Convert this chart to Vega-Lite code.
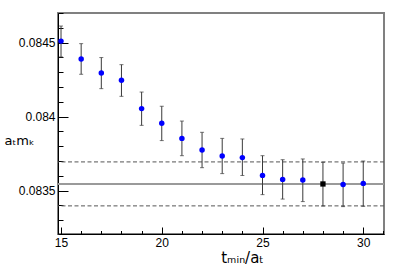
{
  "$schema": "https://vega.github.io/schema/vega-lite/v6.json",
  "width": 326,
  "height": 221,
  "autosize": "none",
  "padding": {"left": 58, "top": 13, "right": 23, "bottom": 43},
  "background": "white",
  "config": {
    "view": {"stroke": "#808080", "strokeWidth": 2},
    "font": "Liberation Sans",
    "axis": {"labelOverlap": false, "labelFlush": false, "labelBound": false}
  },
  "datasets": {
    "pts": [
      {"t": 15, "y": 0.084510, "lo": 0.084403, "hi": 0.084612, "sel": "no"},
      {"t": 16, "y": 0.084389, "lo": 0.084286, "hi": 0.084493, "sel": "no"},
      {"t": 17, "y": 0.084295, "lo": 0.084189, "hi": 0.084399, "sel": "no"},
      {"t": 18, "y": 0.084245, "lo": 0.084137, "hi": 0.084351, "sel": "no"},
      {"t": 19, "y": 0.084054, "lo": 0.083941, "hi": 0.084166, "sel": "no"},
      {"t": 20, "y": 0.083955, "lo": 0.083838, "hi": 0.084070, "sel": "no"},
      {"t": 21, "y": 0.083853, "lo": 0.083736, "hi": 0.083970, "sel": "no"},
      {"t": 22, "y": 0.083774, "lo": 0.083655, "hi": 0.083894, "sel": "no"},
      {"t": 23, "y": 0.083734, "lo": 0.083615, "hi": 0.083853, "sel": "no"},
      {"t": 24, "y": 0.083723, "lo": 0.083602, "hi": 0.083849, "sel": "no"},
      {"t": 25, "y": 0.083603, "lo": 0.083473, "hi": 0.083736, "sel": "no"},
      {"t": 26, "y": 0.083576, "lo": 0.083443, "hi": 0.083709, "sel": "no"},
      {"t": 27, "y": 0.083572, "lo": 0.083426, "hi": 0.083714, "sel": "no"},
      {"t": 28, "y": 0.083545, "lo": 0.083396, "hi": 0.083691, "sel": "yes"},
      {"t": 29, "y": 0.083541, "lo": 0.083392, "hi": 0.083686, "sel": "no"},
      {"t": 30, "y": 0.083549, "lo": 0.083394, "hi": 0.083700, "sel": "no"}
    ],
    "fit": [
      {"level": "central", "v": 0.083545},
      {"level": "upper", "v": 0.083694},
      {"level": "lower", "v": 0.083397}
    ]
  },
  "layer": [
    {
      "data": {"name": "fit"},
      "transform": [{"filter": "datum.level != 'central'"}],
      "mark": {"type": "rule", "color": "#555555", "strokeWidth": 1, "strokeDash": [4, 2.5]},
      "encoding": {
        "y": {"field": "v", "type": "quantitative", "scale": {"domain": [0.083207, 0.0847], "nice": false, "zero": false},
          "axis": {
            "values": [0.0833, 0.0834, 0.0835, 0.0836, 0.0837, 0.0838, 0.0839, 0.084, 0.0841, 0.0842, 0.0843, 0.0844, 0.0845, 0.0846, 0.0847],
            "tickCount": 100,
            "labelExpr": "abs(datum.value*2000 - round(datum.value*2000)) < 1e-6 ? format(datum.value, '.4~f') : ''",
            "tickSize": {"condition": {"test": "abs(datum.value*2000 - round(datum.value*2000)) < 1e-6", "value": -10}, "value": -5},
            "tickColor": "#000000",
            "domainColor": "#000000",
            "grid": false,
            "labelOverlap": false,
            "labelFlush": false,
            "labelFontSize": 12,
            "labelColor": "#000000",
            "labelPadding": 13,
            "labelFont": "Liberation Sans",
            "title": "aₜmₖ",
            "titleFont": "DejaVu Sans",
            "titleFontWeight": "normal",
            "titleFontSize": 13,
            "titleColor": "#000000",
            "titleAngle": 0,
            "titleAlign": "left",
            "titleBaseline": "alphabetic",
            "titleX": -54,
            "titleY": 131
          }
        }
      }
    },
    {
      "data": {"name": "fit"},
      "transform": [{"filter": "datum.level == 'central'"}],
      "mark": {"type": "rule", "color": "#9a9a9a", "strokeWidth": 2},
      "encoding": {
        "y": {"field": "v", "type": "quantitative"}
      }
    },
    {
      "data": {"name": "pts"},
      "mark": {"type": "rule", "color": "#3a3a3a", "strokeWidth": 1},
      "encoding": {
        "x": {"field": "t", "type": "quantitative",
          "scale": {"domain": [14.85, 31.03], "nice": false, "zero": false},
          "axis": {
            "values": [15, 16, 17, 18, 19, 20, 21, 22, 23, 24, 25, 26, 27, 28, 29, 30, 31],
            "tickCount": 100,
            "labelExpr": "datum.value % 5 == 0 ? format(datum.value, 'd') : ''",
            "tickSize": {"condition": {"test": "datum.value % 5 == 0", "value": -7}, "value": -3.5},
            "tickColor": "#000000",
            "domainColor": "#000000",
            "grid": false,
            "labelOverlap": false,
            "labelFlush": false,
            "labelFontSize": 12,
            "labelColor": "#000000",
            "labelPadding": 10.5,
            "labelFont": "Liberation Sans",
            "title": "tₘᵢₙ/aₜ",
            "titleFont": "DejaVu Sans",
            "titleFontWeight": "normal",
            "titleFontSize": 15,
            "titleColor": "#000000",
            "titleAlign": "center",
            "titleBaseline": "alphabetic",
            "titleX": 184,
            "titleY": 28
          }
        },
        "y": {"field": "lo", "type": "quantitative"},
        "y2": {"field": "hi"}
      }
    },
    {
      "data": {"name": "pts"},
      "mark": {"type": "tick", "orient": "horizontal", "color": "#3a3a3a", "size": 4, "thickness": 1},
      "encoding": {
        "x": {"field": "t", "type": "quantitative"},
        "y": {"field": "lo", "type": "quantitative"}
      }
    },
    {
      "data": {"name": "pts"},
      "mark": {"type": "tick", "orient": "horizontal", "color": "#3a3a3a", "size": 4, "thickness": 1},
      "encoding": {
        "x": {"field": "t", "type": "quantitative"},
        "y": {"field": "hi", "type": "quantitative"}
      }
    },
    {
      "data": {"name": "pts"},
      "transform": [{"filter": "datum.sel == 'no'"}],
      "mark": {"type": "circle", "color": "#0000ff", "opacity": 1, "size": 30},
      "encoding": {
        "x": {"field": "t", "type": "quantitative"},
        "y": {"field": "y", "type": "quantitative"}
      }
    },
    {
      "data": {"name": "pts"},
      "transform": [{"filter": "datum.sel == 'yes'"}],
      "mark": {"type": "square", "color": "#000000", "opacity": 1, "filled": true, "size": 28},
      "encoding": {
        "x": {"field": "t", "type": "quantitative"},
        "y": {"field": "y", "type": "quantitative"}
      }
    }
  ]
}
